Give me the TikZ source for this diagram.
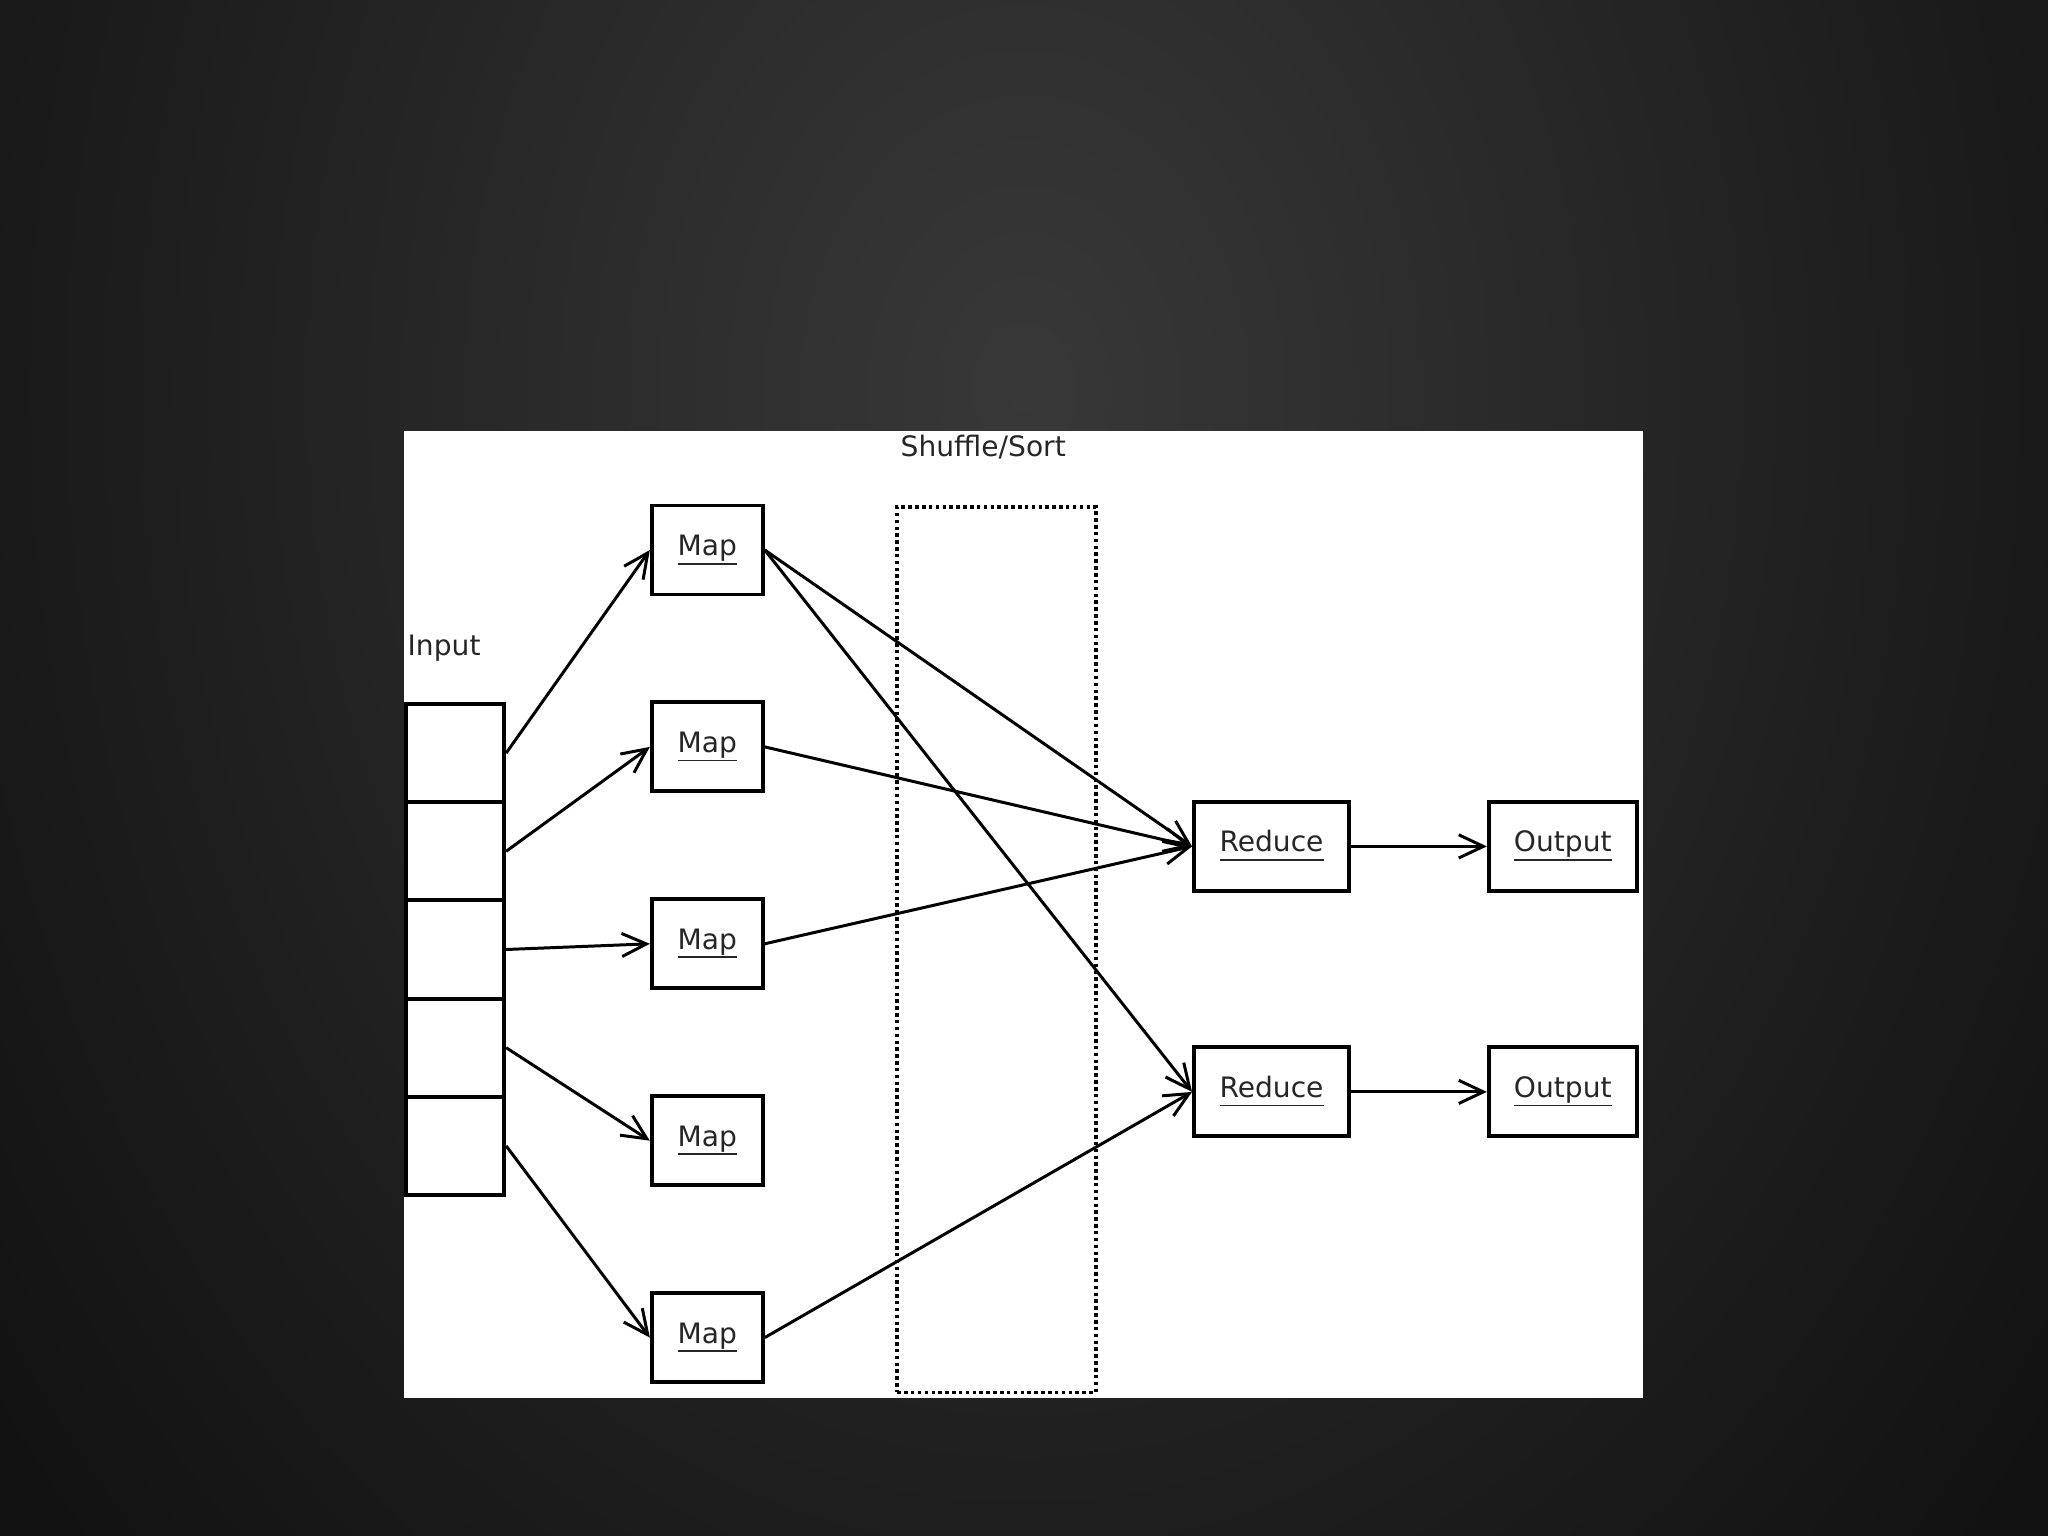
\documentclass[tikz,border=0pt]{standalone}
\usepackage{fontspec}
\setmainfont{DejaVu Sans}
\usetikzlibrary{
  arrows.meta,
  positioning
}

\definecolor{bgcentre}{HTML}{383838}
\definecolor{bgmid}{HTML}{2c2c2c}
\definecolor{bgdark}{HTML}{1f1f1f}
\definecolor{bgedge}{HTML}{121212}
\pgfdeclareradialshading{slideglow}{\pgfpoint{0bp}{0bp}}{%
  color(0bp)=(bgcentre); color(8bp)=(bgmid); color(16bp)=(bgdark);
  color(25bp)=(bgedge); color(50bp)=(bgedge)}

% underlined label, line through the descenders
\newcommand{\undl}[1]{\setbox0\hbox{#1}\rlap{\rule[-2.6pt]{\wd0}{0.55pt}}\box0}

\begin{document}
\begin{tikzpicture}[
  font=\fontsize{8}{10}\selectfont,
  box/.style={
    rectangle, draw=black, line width=1.1pt, fill=white, text=black!85,
    minimum height=0.89cm, inner sep=0pt, text height=5.7pt, text depth=2.6pt
  },
  mapbox/.style={box, minimum width=1.11cm},
  redbox/.style={box, minimum width=1.55cm},
  outbox/.style={box, minimum width=1.48cm},
  cell/.style={
    rectangle, draw=black, line width=1.1pt, fill=white,
    minimum width=0.98cm, minimum height=0.982cm, inner sep=0pt
  },
  sortbox/.style={
    rectangle, draw=black, line width=1pt, dash pattern=on 1pt off 0.95pt,
    minimum width=1.985cm, minimum height=8.855cm
  },
  lbl/.style={inner sep=0pt, text=black!85},
  flow/.style={-{Straight Barb[length=7pt,width=6.6pt]}, line width=0.85pt},
]

% Slide background and white panel
\fill[bgedge] (0,0) rectangle (20.48,-15.36);
\begin{scope}
  \clip (0,0) rectangle (20.48,-15.36);
  \shade[shading=slideglow] (10.24,-3.9) ellipse (13 and 17);
\end{scope}
\useasboundingbox (0,0) rectangle (20.48,-15.36);
\fill[white] (4.04,-4.31) rectangle (16.43,-13.98);

% Shuffle/Sort stage
\node[sortbox] (sort) at (9.965,-9.496) {};
\node[lbl, anchor=base west] (sortlbl) at (9.00,-4.57) {Shuffle/Sort};

% Input splits
\node[lbl, anchor=base west] (inlbl) at (4.07,-6.55) {Input};
\foreach \i in {1,...,5} {
  \node[cell] (in\i) at (4.552, -7.531-0.982*\i+0.982) {};
}

% Map tasks
\foreach \i in {1,...,5} {
  \node[mapbox] (map\i) at (7.073, -5.50-1.969*\i+1.969) {\undl{Map}};
}

% Reduce tasks and outputs
\node[redbox] (red1) at (12.715,-8.464)  {\undl{Reduce}};
\node[redbox] (red2) at (12.715,-10.919) {\undl{Reduce}};
\node[outbox] (out1) at (15.628,-8.464)  {\undl{Output}};
\node[outbox] (out2) at (15.628,-10.919) {\undl{Output}};

% Input -> Map
\foreach \i in {1,...,5} {
  \draw[flow] (in\i.east) -- (map\i.west);
}

% Map -> Reduce (through shuffle/sort)
\draw[flow] (map1.east) -- (red1.west);
\draw[flow] (map1.east) -- (red2.west);
\draw[flow] (map2.east) -- (red1.west);
\draw[flow] (map3.east) -- (red1.west);
\draw[flow] (map5.east) -- (red2.west);

% Reduce -> Output
\foreach \i in {1,2} {
  \draw[flow] (red\i) -- (out\i);
}

\end{tikzpicture}
\end{document}
